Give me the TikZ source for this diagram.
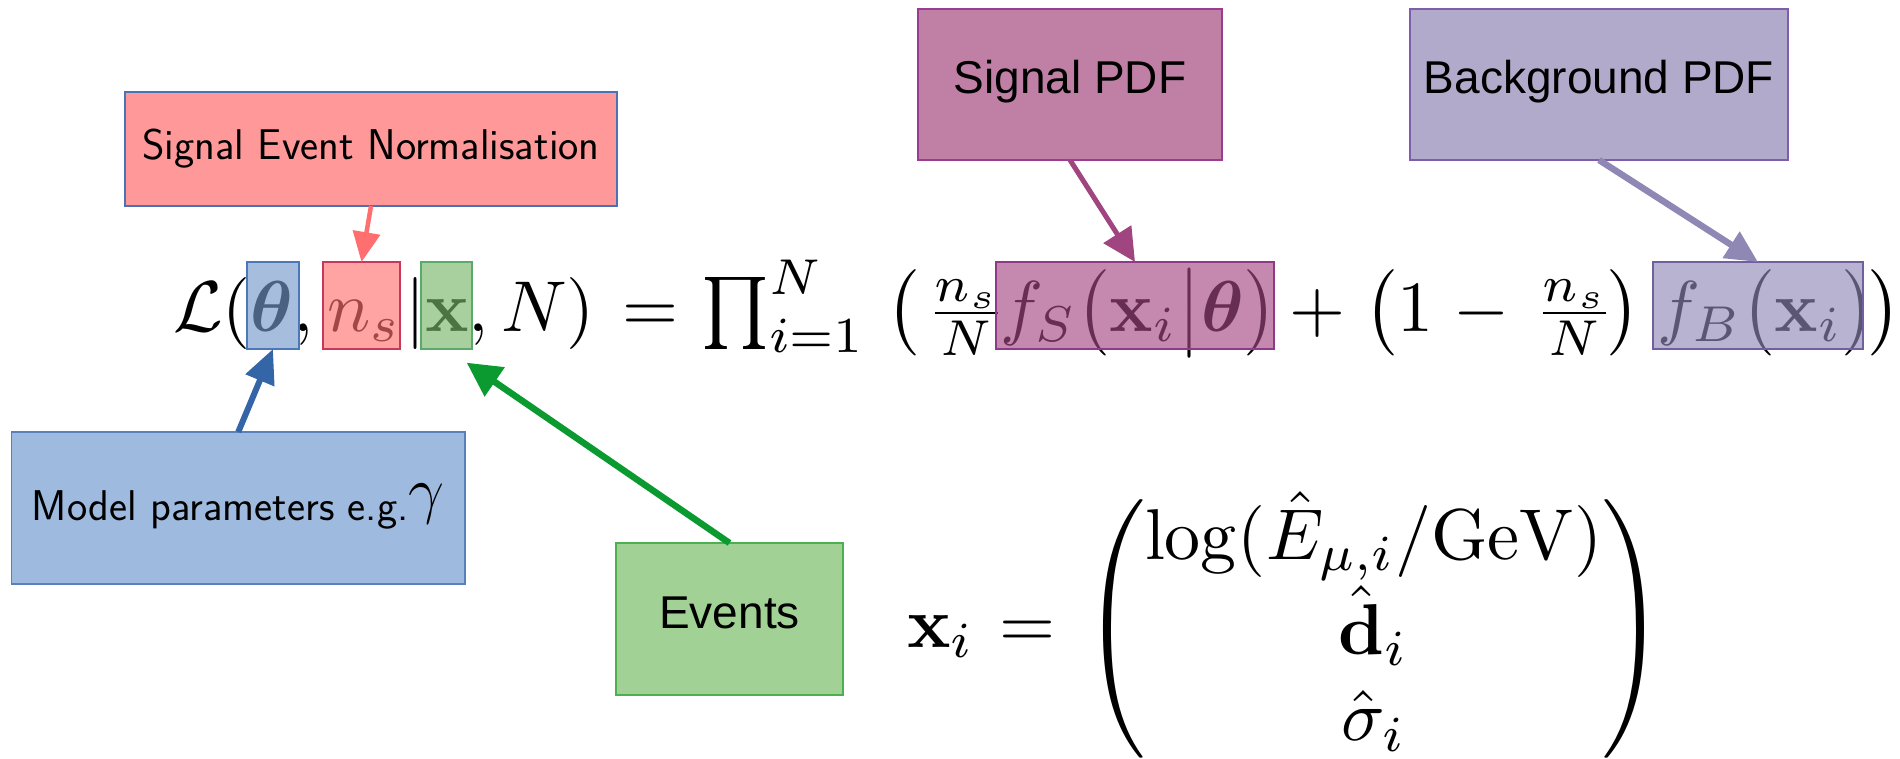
\RequirePackage{fix-cm}
\documentclass[tikz,border=0pt]{standalone}
\usepackage{amsmath}
\usepackage{graphicx}
\usepackage[no-math]{fontspec}
\newfontfamily\arialfont{Liberation Sans}
\usetikzlibrary{arrows.meta}
\newcommand{\sm}[1]{\scalebox{7.2}{$#1$}}
\definecolor{senfill}{HTML}{FF9999}
\definecolor{senborder}{HTML}{4A72B8}
\definecolor{modelfill}{HTML}{9EBBDF}
\definecolor{modelborder}{HTML}{5A80BC}
\definecolor{eventsfill}{HTML}{A1D195}
\definecolor{eventsborder}{HTML}{4CAF50}
\definecolor{sigfill}{HTML}{C080A6}
\definecolor{sigborder}{HTML}{9A3C92}
\definecolor{bgfill}{HTML}{B1AACB}
\definecolor{bgborder}{HTML}{7E5EAA}
\definecolor{redarr}{HTML}{FF6F6F}
\definecolor{bluearr}{HTML}{3465A6}
\definecolor{greenarr}{HTML}{0A9A30}
\definecolor{purparr}{HTML}{A0457F}
\definecolor{lavarr}{HTML}{8F88B5}
\definecolor{thfill}{HTML}{7598CB}
\definecolor{thborder}{HTML}{4A78B8}
\definecolor{nsfill}{HTML}{FF6F6F}
\definecolor{nsborder}{HTML}{C8385A}
\definecolor{xfill}{HTML}{77B567}
\definecolor{xborder}{HTML}{5AAA6A}
\definecolor{fsfill}{HTML}{A44782}
\definecolor{fsborder}{HTML}{8E3A87}
\definecolor{fbfill}{HTML}{8F88B5}
\definecolor{fbborder}{HTML}{7060A0}
\tikzset{
  labelbox/.style={draw, line width=1.5pt, inner sep=0pt, outer sep=0pt, align=center},
  arialbox/.style={labelbox, font=\arialfont\fontsize{46}{55}\selectfont, text height=32pt, text depth=14pt},
  eq/.style={inner sep=0pt, outer sep=0pt, anchor=base west, font=\fontsize{10}{12}\selectfont},
  ovl/.style={draw, line width=1.5pt, fill opacity=0.64, inner sep=0pt, outer sep=0pt, minimum height=87pt},
}
\begin{document}
\begin{tikzpicture}[x=1pt,y=-1pt]
\useasboundingbox (0,0) rectangle (1900,758);
\clip (0,0) rectangle (1900,758);

% labelled boxes
\node[labelbox, fill=senfill, draw=senborder, minimum width=492pt, minimum height=114pt,
      font=\sffamily\fontsize{43}{52}\selectfont] (sen) at (371,149) {Signal Event Normalisation};
\node[arialbox, fill=sigfill, draw=sigborder, minimum width=304pt, minimum height=151pt] (sig) at (1070,84.5) {Signal PDF};
\node[arialbox, fill=bgfill, draw=bgborder, minimum width=378pt, minimum height=151pt] (bg) at (1599,84.5) {Background PDF};
\node[labelbox, fill=modelfill, draw=modelborder, minimum width=453.5pt, minimum height=152pt,
      font=\sffamily\fontsize{43}{52}\selectfont, text height=38pt, text depth=14pt] (model) at (238.25,508)
      {Model parameters e.g.\raisebox{9pt}{\fontsize{64}{70}\selectfont$\gamma$}};
\node[arialbox, fill=eventsfill, draw=eventsborder, minimum width=227pt, minimum height=152pt] (events) at (729.5,619) {Events};

% likelihood equation
\node[eq] (e1) at (173,331) {\sm{\mathcal{L}(\boldsymbol{\theta},}};
\node[eq] (e2) at (327,331) {\sm{n_s}};
\node[eq] (e3) at (405,331) {\sm{|\mathbf{x},}};
\node[eq] (e4) at (501,331) {\sm{N)}};
\node[eq] (e5) at (622.7,331) {\sm{=}};
\node[eq] (e6) at (701,331) {\sm{\prod_{i=1}^{N}}};
\node[eq] (e7) at (886,331) {\sm{\bigl(}};
\node[eq] (e8) at (926,331) {\sm{\tfrac{n_s}{N}}};
\node[eq] (e9) at (1000,331) {\sm{f_S\bigl(\mathbf{x}_i\big|\boldsymbol{\theta}\bigr)}};
\node[eq] (e10) at (1289,331) {\sm{+}};
\node[eq] (e11) at (1364,331) {\sm{\bigl(1}};
\node[eq] (e12) at (1453,331) {\sm{-}};
\node[eq] (e13) at (1534,331) {\sm{\tfrac{n_s}{N}}};
\node[eq] (e14) at (1607,331) {\sm{\bigr)}};
\node[eq] (e15) at (1657,331) {\sm{f_B\bigl(\mathbf{x}_i\bigr)}};
\node[eq] (e16) at (1868,331) {\sm{\bigr)}};

% event vector
\node[eq] (x1) at (907,647) {\sm{\mathbf{x}_i}};
\node[eq] (x2) at (999,647) {\sm{=}};
\node[eq] (x3) at (1082,647) {\sm{\begin{pmatrix}\log(\hat{E}_{\mu,i}/\mathrm{GeV})\\ \hat{\mathbf{d}}_i\\ \hat{\sigma}_i\end{pmatrix}}};

% highlight overlays
\node[ovl, fill=thfill, draw=thborder, minimum width=52pt] (thbox) at (273,305.5) {};
\node[ovl, fill=nsfill, draw=nsborder, minimum width=77pt] (nsbox) at (361.5,305.5) {};
\node[ovl, fill=xfill, draw=xborder, minimum width=51pt] (xbox) at (446.5,305.5) {};
\node[ovl, fill=fsfill, draw=fsborder, minimum width=278pt] (fsbox) at (1135,305.5) {};
\node[ovl, fill=fbfill, draw=fbborder, minimum width=210pt] (fbbox) at (1758,305.5) {};

\coordinate (xtip) at ([shift={(-5.3,13.7)}]xbox.south east);

% arrows
\draw[redarr, line width=4.5pt, -{Triangle[length=30pt,width=27pt]}] (sen.south) -- (nsbox.north);
\draw[bluearr, line width=6pt, -{Triangle[length=34pt,width=30pt]}] (model.north) -- (thbox.south);
\draw[greenarr, line width=6.5pt, -{Triangle[length=34pt,width=34pt]}] (events.north) -- (xtip);
\draw[purparr, line width=5pt, -{Triangle[length=33pt,width=32pt]}] (sig.south) -- (fsbox.north);
\draw[lavarr, line width=6.5pt, -{Triangle[length=32pt,width=30pt]}] (bg.south) -- (fbbox.north);
\end{tikzpicture}
\end{document}
